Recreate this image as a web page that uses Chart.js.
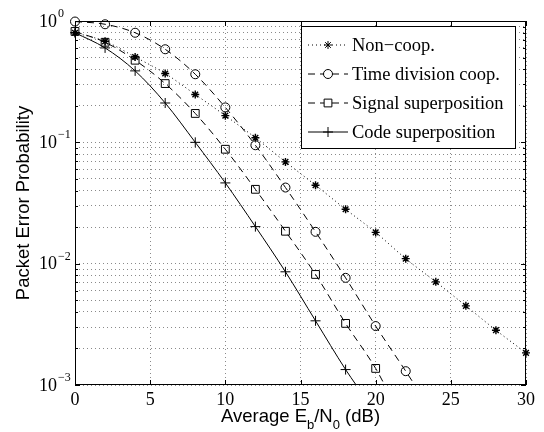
<!DOCTYPE html>
<html>
<head>
<meta charset="utf-8">
<script src="https://cdn.jsdelivr.net/npm/chart.js@4.4.0/dist/chart.umd.min.js"></script>
<style>
  html, body { margin: 0; padding: 0; background: #fff; }
  canvas { display: block; }
</style>
</head>
<body>
<canvas id="chart" width="544" height="432"></canvas>
<script>
// Eb/N0 points (dB) where the simulated values were taken
const snrDb = [0, 2, 4, 6, 8, 10, 12, 14, 16, 18, 20, 22, 24, 26, 28, 30];

// packet error probability
const nonCoop = [0.80, 0.68, 0.505, 0.369, 0.248, 0.166, 0.109, 0.069, 0.0443, 0.0281, 0.0181, 0.011, 0.00708, 0.00449, 0.00283, 0.00184];
const timeDivision = [0.99, 0.94, 0.80, 0.585, 0.364, 0.194, 0.0946, 0.0424, 0.0183, 0.00764, 0.00306, 0.0013];
const signalSuper = [0.82, 0.668, 0.475, 0.305, 0.173, 0.0877, 0.041, 0.0185, 0.00815, 0.00322, 0.00137];
const codeSuper = [0.80, 0.60, 0.388, 0.211, 0.100, 0.0463, 0.0202, 0.00857, 0.00338, 0.00134];

// where the curves leave the plot at the bottom edge (dB)
const timeDivisionExit = 22.6;
const signalSuperExit = 20.6;
const codeSuperExit = 18.7;

const seriesNames = ['Non\u2212coop.', 'Time division coop.', 'Signal superposition', 'Code superposition'];
const xTicks = [0, 5, 10, 15, 20, 25, 30];
const yDecades = [0, -1, -2, -3];

const yMin = 1e-3, yMax = 1;

function toPoints(values, exitDb) {
  const pts = values.map((v, i) => ({ x: snrDb[i], y: v }));
  if (exitDb !== undefined) pts.push({ x: exitDb, y: yMin });
  return pts;
}

function radii(values, exitDb, r) {
  const out = values.map(() => r);
  if (exitDb !== undefined) out.push(0);
  return out;
}

// log ticks 1..9 x 10^k for the dotted grid
const logTicks = [];
for (let k = -3; k < 0; k++) {
  for (let m = 1; m < 10; m++) logTicks.push(m * Math.pow(10, k));
}
logTicks.push(1);

const serif = '"Liberation Serif", "Times New Roman", serif';
const sans = '"Liberation Sans", Arial, sans-serif';

const decor = {
  id: 'decor',
  afterDatasetsDraw(chart) {
    const ctx = chart.ctx;
    const a = chart.chartArea;
    const xs = chart.scales.x, ys = chart.scales.y;
    ctx.save();
    ctx.strokeStyle = '#000';
    ctx.lineWidth = 1;
    ctx.setLineDash([]);

    // box
    ctx.strokeRect(a.left + 0.5, a.top + 0.5, a.right - a.left - 1, a.bottom - a.top - 1);

    // inward tick marks
    ctx.beginPath();
    xTicks.forEach(v => {
      const px = Math.round(xs.getPixelForValue(v)) + 0.5;
      ctx.moveTo(px, a.bottom); ctx.lineTo(px, a.bottom - 5);
      ctx.moveTo(px, a.top); ctx.lineTo(px, a.top + 5);
    });
    logTicks.forEach(v => {
      const py = Math.round(ys.getPixelForValue(v)) + 0.5;
      const major = Math.abs(Math.log10(v) - Math.round(Math.log10(v))) < 1e-9;
      const len = major ? 5 : 3;
      ctx.moveTo(a.left, py); ctx.lineTo(a.left + len, py);
      ctx.moveTo(a.right, py); ctx.lineTo(a.right - len, py);
    });
    ctx.stroke();

    // y tick labels 10^k
    ctx.fillStyle = '#000';
    ctx.textAlign = 'left';
    yDecades.forEach(k => {
      const py = ys.getPixelForValue(Math.pow(10, k));
      ctx.font = '18px ' + serif;
      ctx.textBaseline = 'middle';
      ctx.fillText('10', 39, py + 1);
      const w = ctx.measureText('10').width;
      ctx.font = '12px ' + serif;
      ctx.textBaseline = 'alphabetic';
      ctx.fillText(k === 0 ? '0' : '\u2212' + (-k), 39 + w + 1, py - 4);
    });

    // x axis title with subscripts
    const parts = [
      { t: 'Average E', sub: false },
      { t: 'b', sub: true },
      { t: '/N', sub: false },
      { t: '0', sub: true },
      { t: ' (dB)', sub: false }
    ];
    const big = '18.5px ' + sans, small = '13px ' + sans;
    let total = 0;
    parts.forEach(p => { ctx.font = p.sub ? small : big; p.w = ctx.measureText(p.t).width; total += p.w; });
    let cx = (a.left + a.right) / 2 - total / 2;
    const base = 422;
    parts.forEach(p => {
      ctx.font = p.sub ? small : big;
      ctx.fillText(p.t, cx, p.sub ? base + 7 : base);
      cx += p.w;
    });

    // y axis title
    ctx.save();
    ctx.translate(24, (a.top + a.bottom) / 2);
    ctx.rotate(-Math.PI / 2);
    ctx.font = '18.5px ' + sans;
    ctx.textAlign = 'center';
    ctx.textBaseline = 'middle';
    ctx.fillText('Packet Error Probability', 0, 0);
    ctx.restore();

    // legend box inside the plot
    const lx = 301, ly = 26, lw = 214, lh = 122;
    ctx.fillStyle = '#fff';
    ctx.fillRect(lx, ly, lw, lh);
    ctx.strokeRect(lx + 0.5, ly + 0.5, lw, lh);
    chart.data.datasets.forEach((ds, i) => {
      const y = 45 + i * 29;
      ctx.strokeStyle = '#000';
      ctx.lineWidth = ds.borderWidth;
      ctx.setLineDash(ds.borderDash || []);
      ctx.beginPath();
      ctx.moveTo(308, y); ctx.lineTo(348, y);
      ctx.stroke();
      ctx.setLineDash([]);
      ctx.lineWidth = 1;
      ctx.fillStyle = '#fff';
      Chart.helpers.drawPoint(ctx, {
        pointStyle: ds.pointStyle,
        radius: ds.legendRadius,
        borderWidth: 1,
        rotation: 0
      }, 328, y);
      ctx.fillStyle = '#000';
      ctx.font = '18.5px ' + serif;
      ctx.textAlign = 'left';
      ctx.textBaseline = 'middle';
      ctx.fillText(seriesNames[i], 352, y + 1);
    });
    ctx.restore();
  }
};

function series(values, exitDb, style, r, dash, width) {
  return {
    data: toPoints(values, exitDb),
    borderColor: '#000',
    borderWidth: width,
    borderDash: dash,
    pointStyle: style,
    pointRadius: radii(values, exitDb, r),
    legendRadius: r,
    pointBorderColor: '#000',
    pointBackgroundColor: 'rgba(0,0,0,0)',
    pointBorderWidth: style === 'star' ? 1.4 : 1,
    cubicInterpolationMode: 'monotone',
    fill: false,
    clip: false
  };
}

new Chart(document.getElementById('chart'), {
  type: 'line',
  data: {
    datasets: [
      series(nonCoop, undefined, 'star', 4, [1, 3], 1),
      series(timeDivision, timeDivisionExit, 'circle', 4.5, [7, 5], 1),
      series(signalSuper, signalSuperExit, 'rect', 5.5, [7, 5], 1),
      series(codeSuper, codeSuperExit, 'cross', 5, [], 1)
    ]
  },
  options: {
    responsive: false,
    animation: false,
    layout: { padding: { top: 21, right: 18, left: 0, bottom: 0 } },
    plugins: { legend: { display: false }, tooltip: { enabled: false } },
    scales: {
      x: {
        type: 'linear',
        min: 0,
        max: 30,
        afterFit: s => { s.height = 47; },
        ticks: {
          stepSize: 5,
          color: '#000',
          padding: 4,
          font: { family: serif, size: 18 }
        },
        grid: { color: '#8a8a8a', lineWidth: 1, drawTicks: false },
        border: { display: false, dash: [1, 3] }
      },
      y: {
        type: 'logarithmic',
        min: yMin,
        max: yMax,
        afterFit: s => { s.width = 75; },
        afterBuildTicks: s => { s.ticks = logTicks.map(v => ({ value: v })); },
        ticks: { display: false },
        grid: { color: '#8a8a8a', lineWidth: 1, drawTicks: false },
        border: { display: false, dash: [1, 3] }
      }
    }
  },
  plugins: [decor]
});
</script>
</body>
</html>
